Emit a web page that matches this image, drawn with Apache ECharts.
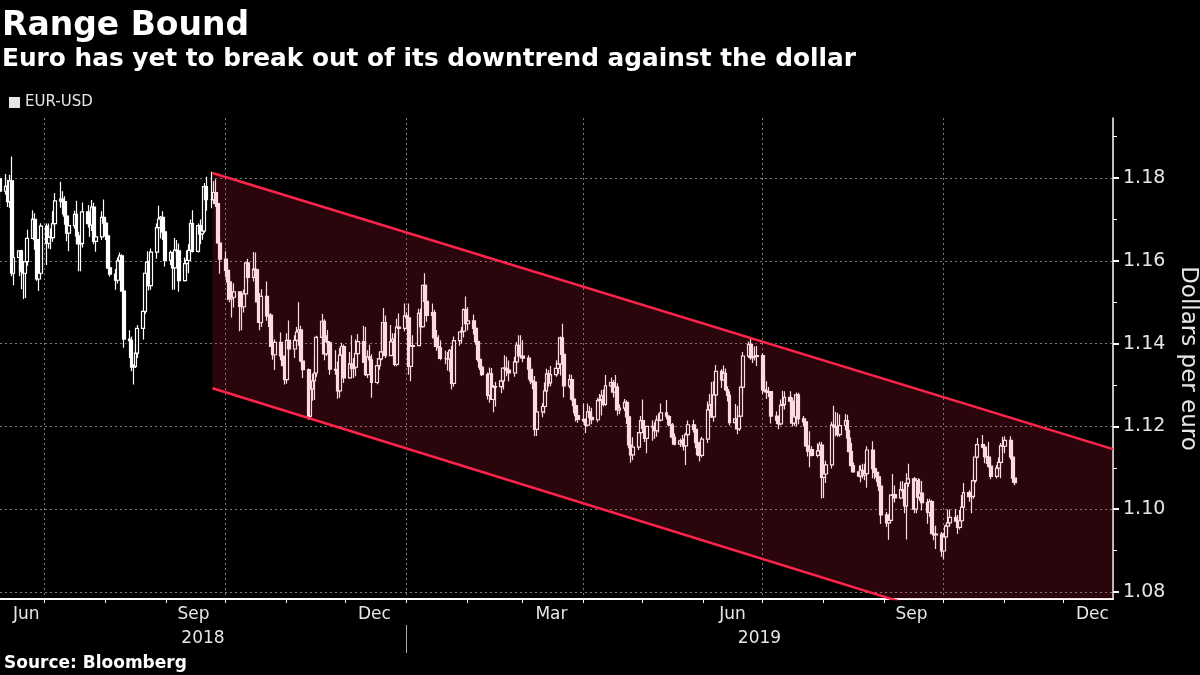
<!DOCTYPE html>
<html><head><meta charset="utf-8">
<script src="https://cdn.jsdelivr.net/npm/echarts@6/dist/echarts.min.js"></script>
<style>html,body{margin:0;padding:0;background:#000;}#c{width:1200px;height:675px;}</style>
</head><body><div id="c"></div>
<script>
// Daily EUR-USD candles, rows are [open, high, low, close], one array per month
const jun2018 = [[1.1798,1.1805,1.1727,1.1768],[1.1768,1.1810,1.1760,1.1780],[1.1780,1.1796,1.1730,1.1743],[1.1743,1.1808,1.1728,1.1793],[1.1793,1.1852,1.1563,1.1570],[1.1570,1.1627,1.1541,1.1608],[1.1608,1.1625,1.1563,1.1624],[1.1624,1.1627,1.1531,1.1575],[1.1575,1.1597,1.1508,1.1570],[1.1570,1.1607,1.1510,1.1598],[1.1598,1.1675,1.1588,1.1654],[1.1654,1.1722,1.1654,1.1700],[1.1700,1.1715,1.1627,1.1651],[1.1651,1.1675,1.1552,1.1556],[1.1556,1.1594,1.1527,1.1570],[1.1570,1.1691,1.1566,1.1684]];
const jul2018 = [[1.1684,1.1690,1.1590,1.1642],[1.1642,1.1690,1.1630,1.1657],[1.1657,1.1678,1.1628,1.1656],[1.1656,1.1720,1.1646,1.1690],[1.1690,1.1764,1.1682,1.1745],[1.1745,1.1791,1.1728,1.1749],[1.1749,1.1768,1.1712,1.1743],[1.1743,1.1756,1.1687,1.1708],[1.1708,1.1714,1.1647,1.1667],[1.1667,1.1687,1.1623,1.1685],[1.1685,1.1721,1.1678,1.1712],[1.1712,1.1745,1.1643,1.1660],[1.1660,1.1670,1.1575,1.1641],[1.1641,1.1652,1.1575,1.1642],[1.1642,1.1741,1.1632,1.1718],[1.1718,1.1735,1.1680,1.1690],[1.1690,1.1717,1.1658,1.1686],[1.1686,1.1747,1.1672,1.1730],[1.1730,1.1740,1.1640,1.1647],[1.1647,1.1667,1.1622,1.1658],[1.1658,1.1720,1.1650,1.1705],[1.1705,1.1748,1.1680,1.1691]];
const aug2018 = [[1.1691,1.1700,1.1650,1.1660],[1.1660,1.1665,1.1580,1.1583],[1.1583,1.1620,1.1562,1.1568],[1.1568,1.1580,1.1530,1.1553],[1.1553,1.1608,1.1545,1.1600],[1.1600,1.1620,1.1579,1.1612],[1.1612,1.1616,1.1525,1.1527],[1.1527,1.1535,1.1390,1.1411],[1.1411,1.1432,1.1365,1.1407],[1.1407,1.1417,1.1333,1.1343],[1.1343,1.1350,1.1301,1.1345],[1.1345,1.1400,1.1341,1.1377],[1.1377,1.1445,1.1365,1.1437],[1.1437,1.1485,1.1410,1.1478],[1.1478,1.1583,1.1472,1.1570],[1.1570,1.1623,1.1560,1.1597],[1.1597,1.1600,1.1528,1.1540],[1.1540,1.1630,1.1530,1.1621],[1.1621,1.1690,1.1605,1.1680],[1.1680,1.1733,1.1672,1.1701],[1.1701,1.1708,1.1654,1.1705],[1.1705,1.1720,1.1650,1.1670],[1.1670,1.1680,1.1586,1.1601]];
const sep2018 = [[1.1601,1.1625,1.1590,1.1620],[1.1620,1.1622,1.1530,1.1583],[1.1583,1.1655,1.1530,1.1626],[1.1626,1.1650,1.1605,1.1624],[1.1624,1.1642,1.1525,1.1552],[1.1552,1.1608,1.1550,1.1593],[1.1593,1.1625,1.1570,1.1601],[1.1601,1.1640,1.1570,1.1625],[1.1625,1.1700,1.1615,1.1690],[1.1690,1.1722,1.1620,1.1623],[1.1623,1.1690,1.1620,1.1685],[1.1685,1.1700,1.1640,1.1665],[1.1665,1.1703,1.1651,1.1672],[1.1672,1.1788,1.1668,1.1779],[1.1779,1.1803,1.1721,1.1748],[1.1748,1.1815,1.1727,1.1748],[1.1748,1.1792,1.1737,1.1765],[1.1765,1.1797,1.1730,1.1738],[1.1738,1.1745,1.1641,1.1643],[1.1643,1.1655,1.1569,1.1604]];
const oct2018 = [[1.1604,1.1623,1.1560,1.1577],[1.1577,1.1585,1.1505,1.1549],[1.1549,1.1571,1.1500,1.1508],[1.1508,1.1540,1.1463,1.1512],[1.1512,1.1546,1.1487,1.1525],[1.1525,1.1526,1.1430,1.1490],[1.1490,1.1496,1.1432,1.1489],[1.1489,1.1530,1.1475,1.1520],[1.1520,1.1596,1.1510,1.1595],[1.1595,1.1605,1.1549,1.1560],[1.1560,1.1621,1.1550,1.1580],[1.1580,1.1620,1.1560,1.1578],[1.1578,1.1580,1.1494,1.1501],[1.1501,1.1522,1.1432,1.1451],[1.1451,1.1531,1.1440,1.1514],[1.1514,1.1550,1.1455,1.1467],[1.1467,1.1496,1.1440,1.1469],[1.1469,1.1474,1.1393,1.1393],[1.1393,1.1421,1.1361,1.1373],[1.1373,1.1410,1.1336,1.1403],[1.1403,1.1427,1.1360,1.1370],[1.1370,1.1380,1.1345,1.1347],[1.1347,1.1352,1.1301,1.1313]];
const nov2018 = [[1.1313,1.1425,1.1303,1.1408],[1.1408,1.1456,1.1370,1.1387],[1.1387,1.1420,1.1365,1.1408],[1.1408,1.1440,1.1393,1.1428],[1.1428,1.1500,1.1395,1.1433],[1.1433,1.1443,1.1355,1.1358],[1.1358,1.1363,1.1317,1.1337],[1.1337,1.1340,1.1216,1.1225],[1.1225,1.1300,1.1220,1.1290],[1.1290,1.1327,1.1262,1.1310],[1.1310,1.1365,1.1264,1.1329],[1.1329,1.1419,1.1320,1.1415],[1.1415,1.1472,1.1400,1.1454],[1.1454,1.1459,1.1360,1.1375],[1.1375,1.1420,1.1370,1.1405],[1.1405,1.1433,1.1390,1.1402],[1.1402,1.1406,1.1325,1.1338],[1.1338,1.1384,1.1325,1.1336],[1.1336,1.1357,1.1267,1.1286],[1.1286,1.1390,1.1269,1.1372],[1.1372,1.1402,1.1370,1.1393],[1.1393,1.1398,1.1305,1.1317]];
const dec2018 = [[1.1317,1.1380,1.1315,1.1351],[1.1351,1.1420,1.1331,1.1340],[1.1340,1.1365,1.1317,1.1343],[1.1343,1.1410,1.1321,1.1376],[1.1376,1.1423,1.1371,1.1405],[1.1405,1.1443,1.1353,1.1355],[1.1355,1.1440,1.1322,1.1325],[1.1325,1.1384,1.1317,1.1368],[1.1368,1.1397,1.1355,1.1361],[1.1361,1.1374,1.1269,1.1306],[1.1306,1.1365,1.1302,1.1347],[1.1347,1.1380,1.1337,1.1363],[1.1363,1.1440,1.1360,1.1380],[1.1380,1.1486,1.1375,1.1451],[1.1451,1.1468,1.1365,1.1371],[1.1371,1.1445,1.1370,1.1405],[1.1405,1.1425,1.1400,1.1410],[1.1410,1.1425,1.1345,1.1350],[1.1350,1.1460,1.1345,1.1440],[1.1440,1.1473,1.1420,1.1437],[1.1437,1.1497,1.1430,1.1467]];
const jan2019 = [[1.1467,1.1476,1.1450,1.1462],[1.1462,1.1497,1.1325,1.1345],[1.1345,1.1410,1.1309,1.1393],[1.1393,1.1420,1.1350,1.1395],[1.1395,1.1484,1.1395,1.1473],[1.1473,1.1485,1.1424,1.1441],[1.1441,1.1542,1.1438,1.1541],[1.1541,1.1570,1.1485,1.1502],[1.1502,1.1542,1.1453,1.1468],[1.1468,1.1497,1.1456,1.1475],[1.1475,1.1482,1.1396,1.1414],[1.1414,1.1433,1.1383,1.1393],[1.1393,1.1420,1.1378,1.1390],[1.1390,1.1408,1.1360,1.1364],[1.1364,1.1383,1.1350,1.1364],[1.1364,1.1380,1.1335,1.1363],[1.1363,1.1387,1.1332,1.1383],[1.1383,1.1395,1.1289,1.1304],[1.1304,1.1417,1.1296,1.1407],[1.1407,1.1429,1.1395,1.1428],[1.1428,1.1440,1.1400,1.1430],[1.1430,1.1485,1.1415,1.1482],[1.1482,1.1514,1.1448,1.1448]];
const feb2019 = [[1.1448,1.1488,1.1432,1.1455],[1.1455,1.1470,1.1422,1.1437],[1.1437,1.1442,1.1397,1.1405],[1.1405,1.1412,1.1357,1.1362],[1.1362,1.1374,1.1336,1.1343],[1.1343,1.1350,1.1322,1.1325],[1.1325,1.1330,1.1265,1.1275],[1.1275,1.1342,1.1257,1.1327],[1.1327,1.1341,1.1264,1.1265],[1.1265,1.1300,1.1234,1.1295],[1.1295,1.1307,1.1248,1.1296],[1.1296,1.1317,1.1280,1.1310],[1.1310,1.1341,1.1289,1.1341],[1.1341,1.1372,1.1329,1.1340],[1.1340,1.1368,1.1321,1.1336],[1.1336,1.1359,1.1309,1.1329],[1.1329,1.1368,1.1320,1.1356],[1.1356,1.1404,1.1328,1.1396],[1.1396,1.1420,1.1366,1.1370],[1.1370,1.1420,1.1364,1.1370]];
const mar2019 = [[1.1370,1.1408,1.1355,1.1365],[1.1365,1.1372,1.1313,1.1338],[1.1338,1.1351,1.1302,1.1310],[1.1310,1.1320,1.1290,1.1307],[1.1307,1.1322,1.1176,1.1193],[1.1193,1.1245,1.1177,1.1235],[1.1235,1.1256,1.1222,1.1248],[1.1248,1.1306,1.1232,1.1286],[1.1286,1.1339,1.1280,1.1327],[1.1327,1.1336,1.1296,1.1305],[1.1305,1.1346,1.1297,1.1325],[1.1325,1.1360,1.1320,1.1340],[1.1340,1.1362,1.1327,1.1351],[1.1351,1.1417,1.1323,1.1414],[1.1414,1.1448,1.1370,1.1374],[1.1374,1.1384,1.1270,1.1298],[1.1298,1.1326,1.1292,1.1313],[1.1313,1.1325,1.1262,1.1266],[1.1266,1.1274,1.1232,1.1250],[1.1250,1.1255,1.1212,1.1226],[1.1226,1.1239,1.1209,1.1217]];
const apr2019 = [[1.1217,1.1255,1.1209,1.1214],[1.1214,1.1219,1.1184,1.1203],[1.1203,1.1255,1.1200,1.1235],[1.1235,1.1249,1.1207,1.1222],[1.1222,1.1245,1.1205,1.1216],[1.1216,1.1269,1.1210,1.1262],[1.1262,1.1278,1.1248,1.1265],[1.1265,1.1288,1.1226,1.1274],[1.1274,1.1289,1.1248,1.1253],[1.1253,1.1324,1.1250,1.1298],[1.1298,1.1318,1.1289,1.1306],[1.1306,1.1312,1.1270,1.1283],[1.1283,1.1324,1.1272,1.1295],[1.1295,1.1304,1.1226,1.1240],[1.1240,1.1253,1.1230,1.1244],[1.1244,1.1266,1.1237,1.1258],[1.1258,1.1263,1.1206,1.1223],[1.1223,1.1228,1.1147,1.1155],[1.1155,1.1170,1.1112,1.1131],[1.1131,1.1174,1.1118,1.1150],[1.1150,1.1185,1.1143,1.1185],[1.1185,1.1225,1.1175,1.1214]];
const may2019 = [[1.1214,1.1265,1.1195,1.1195],[1.1195,1.1202,1.1162,1.1171],[1.1171,1.1201,1.1135,1.1200],[1.1200,1.1215,1.1165,1.1199],[1.1199,1.1210,1.1170,1.1190],[1.1190,1.1226,1.1175,1.1215],[1.1215,1.1232,1.1185,1.1215],[1.1215,1.1255,1.1212,1.1233],[1.1233,1.1264,1.1217,1.1225],[1.1225,1.1227,1.1200,1.1204],[1.1204,1.1225,1.1175,1.1203],[1.1203,1.1208,1.1167,1.1174],[1.1174,1.1183,1.1154,1.1157],[1.1157,1.1171,1.1150,1.1165],[1.1165,1.1179,1.1150,1.1161],[1.1161,1.1171,1.1142,1.1153],[1.1153,1.1185,1.1107,1.1180],[1.1180,1.1214,1.1175,1.1204],[1.1204,1.1216,1.1185,1.1193],[1.1193,1.1194,1.1147,1.1161],[1.1161,1.1167,1.1128,1.1132],[1.1132,1.1148,1.1115,1.1130],[1.1130,1.1175,1.1125,1.1169]];
const jun2019 = [[1.1169,1.1260,1.1160,1.1240],[1.1240,1.1278,1.1230,1.1252],[1.1252,1.1307,1.1220,1.1223],[1.1223,1.1309,1.1211,1.1276],[1.1276,1.1348,1.1250,1.1333],[1.1333,1.1338,1.1293,1.1312],[1.1312,1.1347,1.1310,1.1328],[1.1328,1.1340,1.1285,1.1289],[1.1289,1.1297,1.1260,1.1275],[1.1275,1.1285,1.1202,1.1209],[1.1209,1.1254,1.1207,1.1218],[1.1218,1.1250,1.1181,1.1194],[1.1194,1.1229,1.1189,1.1225],[1.1225,1.1318,1.1223,1.1295],[1.1295,1.1380,1.1280,1.1370],[1.1370,1.1405,1.1365,1.1398],[1.1398,1.1412,1.1361,1.1366],[1.1366,1.1390,1.1353,1.1368],[1.1368,1.1393,1.1359,1.1369],[1.1369,1.1394,1.1346,1.1371]];
const jul2019 = [[1.1371,1.1377,1.1278,1.1288],[1.1288,1.1326,1.1282,1.1286],[1.1286,1.1309,1.1266,1.1283],[1.1283,1.1295,1.1271,1.1284],[1.1284,1.1285,1.1207,1.1225],[1.1225,1.1236,1.1206,1.1215],[1.1215,1.1221,1.1193,1.1206],[1.1206,1.1265,1.1203,1.1251],[1.1251,1.1286,1.1242,1.1253],[1.1253,1.1285,1.1241,1.1270],[1.1270,1.1285,1.1250,1.1261],[1.1261,1.1270,1.1200,1.1208],[1.1208,1.1230,1.1201,1.1223],[1.1223,1.1282,1.1200,1.1276],[1.1276,1.1281,1.1205,1.1218],[1.1218,1.1225,1.1200,1.1211],[1.1211,1.1214,1.1151,1.1153],[1.1153,1.1167,1.1127,1.1140],[1.1140,1.1188,1.1101,1.1144],[1.1144,1.1152,1.1127,1.1130],[1.1130,1.1159,1.1125,1.1141],[1.1141,1.1163,1.1138,1.1155],[1.1155,1.1162,1.1026,1.1077]];
const aug2019 = [[1.1077,1.1109,1.1027,1.1085],[1.1085,1.1117,1.1063,1.1107],[1.1107,1.1211,1.1098,1.1203],[1.1203,1.1250,1.1167,1.1199],[1.1199,1.1235,1.1176,1.1198],[1.1198,1.1233,1.1175,1.1180],[1.1180,1.1229,1.1175,1.1202],[1.1202,1.1230,1.1190,1.1214],[1.1214,1.1228,1.1166,1.1172],[1.1172,1.1192,1.1138,1.1139],[1.1139,1.1160,1.1103,1.1105],[1.1105,1.1113,1.1088,1.1090],[1.1090,1.1106,1.1077,1.1080],[1.1080,1.1106,1.1065,1.1094],[1.1094,1.1110,1.1075,1.1082],[1.1082,1.1110,1.1070,1.1086],[1.1086,1.1152,1.1052,1.1143],[1.1143,1.1164,1.1075,1.1098],[1.1098,1.1112,1.1072,1.1089],[1.1089,1.1094,1.1065,1.1078],[1.1078,1.1090,1.1044,1.1056],[1.1056,1.1063,1.0964,1.0986]];
const sep2019 = [[1.0986,1.0993,1.0957,1.0967],[1.0967,1.0987,1.0926,1.0973],[1.0973,1.1034,1.0966,1.1034],[1.1034,1.1085,1.1017,1.1035],[1.1035,1.1057,1.1016,1.1027],[1.1027,1.1067,1.1024,1.1047],[1.1047,1.1068,1.1036,1.1044],[1.1044,1.1063,1.0990,1.1008],[1.1008,1.1087,1.0927,1.1063],[1.1063,1.1110,1.1054,1.1073],[1.1073,1.1078,1.0990,1.1000],[1.1000,1.1075,1.0990,1.1069],[1.1069,1.1075,1.1025,1.1029],[1.1029,1.1073,1.1020,1.1039],[1.1039,1.1068,1.0997,1.1016],[1.1016,1.1025,1.0965,1.0992],[1.0992,1.1025,1.0982,1.1018],[1.1018,1.1022,1.0940,1.0941],[1.0941,1.0960,1.0925,1.0938],[1.0938,1.0960,1.0904,1.0940],[1.0940,1.0945,1.0885,1.0899]];
const oct2019 = [[1.0899,1.0943,1.0879,1.0933],[1.0933,1.0963,1.0925,1.0959],[1.0959,1.0999,1.0940,1.0967],[1.0967,1.0999,1.0959,1.0980],[1.0980,1.1000,1.0970,1.0971],[1.0971,1.0986,1.0940,1.0956],[1.0956,1.0998,1.0951,1.0972],[1.0972,1.1034,1.0963,1.1005],[1.1005,1.1063,1.1002,1.1040],[1.1040,1.1046,1.1018,1.1030],[1.1030,1.1045,1.0990,1.1031],[1.1031,1.1085,1.1025,1.1069],[1.1069,1.1139,1.1064,1.1126],[1.1126,1.1172,1.1123,1.1156],[1.1156,1.1179,1.1147,1.1150],[1.1150,1.1154,1.1111,1.1127],[1.1127,1.1140,1.1109,1.1126],[1.1126,1.1163,1.1100,1.1104],[1.1104,1.1122,1.1072,1.1079],[1.1079,1.1107,1.1074,1.1099],[1.1099,1.1125,1.1092,1.1113],[1.1113,1.1160,1.1075,1.1153],[1.1153,1.1175,1.1140,1.1152]];
const nov2019 = [[1.1152,1.1176,1.1135,1.1166],[1.1166,1.1176,1.1120,1.1126],[1.1126,1.1132,1.1064,1.1075],[1.1075,1.1077,1.1058,1.1064]];

const months = [jun2018, jul2018, aug2018, sep2018, oct2018, nov2018, dec2018, jan2019, feb2019, mar2019, apr2019, may2019, jun2019, jul2019, aug2019, sep2019, oct2019, nov2019];
const firstTradingDay = [2018, 5, 8];          // 8 June 2018 (year, month index, day)

// Downtrend channel (start/end dates and values)
const channelStart = [2018, 8, 24, 16];
const channelEnd = [2019, 11, 26, 12];
const channelTop = [1.1812, 1.1145];
const channelBottom = [1.1292, 1.0617];

// Axes
const yTicks = [1.08, 1.10, 1.12, 1.14, 1.16, 1.18];
const yMinorTicks = [1.09, 1.11, 1.13, 1.15, 1.17, 1.19];
const yRange = [1.0783, 1.1945];
const monthNames = ['Jan','Feb','Mar','Apr','May','Jun','Jul','Aug','Sep','Oct','Nov','Dec'];
const monthLabelDays = [[2018,5,22],[2018,8,15],[2018,11,16],[2019,2,16],[2019,5,16],[2019,8,15],[2019,11,16]];
const quarterStarts = [[2018,6,1],[2018,9,1],[2019,0,1],[2019,3,1],[2019,6,1],[2019,9,1]];
const yearBreak = [2019, 0, 1];

const DAY = 86400000;
const utc = a => Date.UTC(a[0], a[1], a[2], a[3] || 0);
const xMin = Date.UTC(2018, 5, 8, 15);
const xMax = Date.UTC(2019, 11, 26, 12);

// trading-day calendar (weekdays) for the candles
const rows = [].concat(...months);
const tradingDays = [];
for (let t = utc(firstTradingDay) + 12 * 3600000; tradingDays.length < rows.length; t += DAY) {
  const wd = new Date(t).getUTCDay();
  if (wd !== 0 && wd !== 6) tradingDays.push(t);
}
const candles = rows.map((r, i) => [tradingDays[i], r[0], r[3], r[2], r[1]]);

const monthStarts = [];
for (let y = 2018, m = 6; ; m++) {
  if (m > 11) { m = 0; y++; }
  const t = Date.UTC(y, m, 1);
  if (t >= xMax) break;
  monthStarts.push(t);
}
const yb = utc(yearBreak);
const yearCenters = [(xMin + yb) / 2, (yb + xMax) / 2];

const FONT = 'DejaVu Sans';
const TXT = '#e6e6e6';
const grid = { left: 0, right: 87, top: 118, bottom: 76, containLabel: false, outerBoundsMode: 'none' };

const chart = echarts.init(document.getElementById('c'), null, { renderer: 'canvas' });
const t0 = utc(channelStart), t1 = utc(channelEnd);

chart.setOption({
  backgroundColor: '#000',
  animation: false,
  title: [
    { text: 'Range Bound', left: 2, top: 10, padding: 0, textStyle: { color: '#fff', fontFamily: FONT, fontWeight: 'bold', fontSize: 33 } },
    { text: 'Euro has yet to break out of its downtrend against the dollar', left: 2, top: 47, padding: 0, textStyle: { color: '#fff', fontFamily: FONT, fontWeight: 'bold', fontSize: 24.8 } },
    { text: 'Source: Bloomberg', left: 4, top: 655, padding: 0, textStyle: { color: '#fff', fontFamily: FONT, fontWeight: 'bold', fontSize: 17 } }
  ],
  legend: {
    left: 9, top: 95, padding: 0, icon: 'rect', itemWidth: 11, itemHeight: 11, selectedMode: false,
    data: [{ name: 'EUR-USD', itemStyle: { color: TXT, borderWidth: 0 } }],
    textStyle: { color: TXT, fontFamily: FONT, fontSize: 15 }
  },
  grid: grid,
  xAxis: [
    { type: 'value', min: xMin, max: xMax, position: 'bottom',
      axisLine: { show: true, lineStyle: { color: '#fff', width: 2 } },
      axisTick: { show: true, length: 4, lineStyle: { color: '#fff', width: 1 }, customValues: monthStarts },
      axisLabel: { show: true, customValues: monthLabelDays.map(utc), margin: 7, color: TXT, fontFamily: FONT, fontSize: 17,
        formatter: v => monthNames[new Date(v).getUTCMonth()] },
      splitLine: { show: false } },
    { type: 'value', min: xMin, max: xMax, position: 'bottom',
      axisLine: { show: false }, axisLabel: { show: false },
      axisTick: { show: false, customValues: quarterStarts.map(utc) },
      splitLine: { show: true, lineStyle: { color: '#7a7a7a', width: 1, type: [2, 3] } } },
    { type: 'value', min: xMin, max: xMax, position: 'bottom', offset: 26,
      axisLine: { show: false },
      axisTick: { show: true, length: 28, lineStyle: { color: '#aaa', width: 1 }, customValues: [yb] },
      axisLabel: { show: true, customValues: yearCenters, margin: 5, color: TXT, fontFamily: FONT, fontSize: 17,
        formatter: v => String(new Date(v).getUTCFullYear()) },
      splitLine: { show: false } }
  ],
  yAxis: [
    { type: 'value', min: yRange[0], max: yRange[1], position: 'right',
      name: 'Dollars per euro', nameLocation: 'middle', nameRotate: -90, nameGap: 58,
      nameTextStyle: { color: TXT, fontFamily: FONT, fontSize: 23 },
      axisLine: { show: true, lineStyle: { color: '#fff', width: 1.5 } },
      axisTick: { show: true, inside: false, length: 6, lineStyle: { color: '#fff', width: 2 }, customValues: yTicks },
      axisLabel: { show: true, customValues: yTicks, margin: 10, color: TXT, fontFamily: FONT, fontSize: 19,
        formatter: v => v.toFixed(2) },
      splitLine: { show: true, lineStyle: { color: '#7a7a7a', width: 1, type: [2, 3] } } },
    { type: 'value', min: yRange[0], max: yRange[1], position: 'right',
      axisLine: { show: false }, axisLabel: { show: false }, splitLine: { show: false },
      axisTick: { show: true, length: 4, lineStyle: { color: '#fff', width: 1 }, customValues: yMinorTicks } }
  ],
  series: [
    { name: 'EUR-USD', type: 'candlestick', xAxisIndex: 0, yAxisIndex: 0, z: 2,
      encode: { x: 0, y: [1, 2, 3, 4] }, barWidth: 3.4,
      itemStyle: { color: '#000', color0: '#fff', borderColor: '#fff', borderColor0: '#fff', borderWidth: 1.2 },
      data: candles },
    { type: 'custom', xAxisIndex: 0, yAxisIndex: 0, z: 3, silent: true, clip: true,
      data: [[t0, channelTop[0]]],
      renderItem: (params, api) => {
        const pts = [api.coord([t0, channelTop[0]]), api.coord([t1, channelTop[1]]),
                     api.coord([t1, channelBottom[1]]), api.coord([t0, channelBottom[0]])];
        return { type: 'polygon', shape: { points: pts }, style: { fill: 'rgba(248,30,71,0.17)' } };
      } },
    { type: 'line', xAxisIndex: 0, yAxisIndex: 0, z: 4, symbol: 'none', silent: true,
      lineStyle: { color: '#ff2449', width: 2.5 }, data: [[t0, channelTop[0]], [t1, channelTop[1]]] },
    { type: 'line', xAxisIndex: 0, yAxisIndex: 0, z: 4, symbol: 'none', silent: true,
      lineStyle: { color: '#ff2449', width: 2.5 }, data: [[t0, channelBottom[0]], [t1, channelBottom[1]]] }
  ]
});
</script>
</body></html>
